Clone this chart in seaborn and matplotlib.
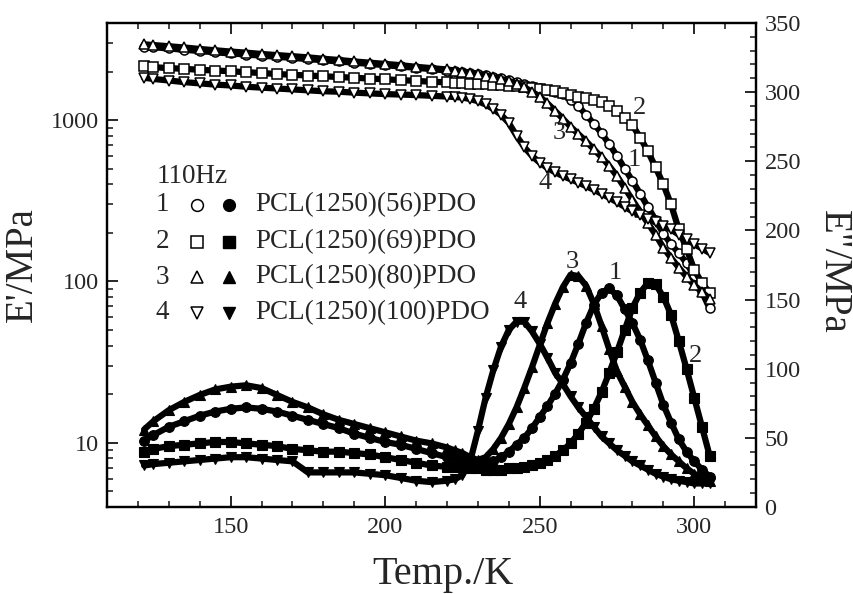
import matplotlib
matplotlib.use("Agg")
import numpy as np
import pandas as pd
import matplotlib.pyplot as plt
import seaborn as sns
from matplotlib.ticker import MultipleLocator, NullFormatter, LogLocator

# Temperature grid (K)
temps = [122, 125, 130, 135, 140, 145, 150, 155, 160, 165, 170, 175, 180, 185,
         190, 195, 200, 205, 210, 215, 220, 222.5, 225, 227.5, 230, 232.5, 235,
         237.5, 240, 242.5, 245, 247.5, 250, 252.5, 255, 257.5, 260, 262.5, 265,
         267.5, 270, 272.5, 275, 277.5, 280, 282.5, 285, 287.5, 290, 292.5, 295,
         297.5, 300, 302.5, 305]

# Storage modulus E' (MPa), open markers, left log axis
e1_store = [2850, 2830, 2780, 2730, 2680, 2630, 2590, 2550, 2510, 2470, 2430, 2390,
            2350, 2310, 2270, 2230, 2190, 2150, 2110, 2070, 2030, 2010, 1990, 1960,
            1930, 1900, 1860, 1820, 1780, 1730, 1680, 1630, 1580, 1540, 1500, 1450,
            1340, 1220, 1080, 950, 830, 710, 600, 500, 420, 350, 290, 240, 198, 170,
            150, 130, 108, 86, 68]
e2_store = [2150, 2130, 2100, 2080, 2050, 2030, 2010, 1980, 1960, 1930, 1910, 1890,
            1870, 1850, 1830, 1810, 1790, 1770, 1750, 1730, 1715, 1705, 1695, 1685,
            1675, 1665, 1655, 1645, 1635, 1620, 1605, 1590, 1570, 1545, 1510, 1470,
            1430, 1400, 1370, 1340, 1290, 1220, 1140, 1030, 930, 780, 640, 510, 400,
            300, 210, 160, 118, 98, 85]
e3_store = [2950, 2920, 2870, 2820, 2760, 2710, 2660, 2620, 2570, 2530, 2490, 2450,
            2400, 2360, 2310, 2270, 2230, 2190, 2140, 2100, 2060, 2030, 2000, 1970,
            1930, 1890, 1850, 1800, 1750, 1680, 1600, 1500, 1400, 1270, 1140, 1020,
            910, 820, 740, 660, 590, 520, 450, 380, 320, 270, 230, 195, 162, 140,
            122, 107, 95, 86, 78]
e4_store = [1830, 1800, 1760, 1720, 1690, 1660, 1640, 1610, 1590, 1570, 1550, 1530,
            1510, 1500, 1480, 1465, 1450, 1440, 1430, 1415, 1400, 1390, 1380, 1350,
            1310, 1250, 1170, 1080, 960, 800, 680, 600, 545, 505, 475, 450, 430, 410,
            390, 370, 350, 330, 310, 290, 272, 258, 245, 233, 222, 210, 195, 182,
            170, 160, 150]

# Loss modulus E'' (MPa), filled markers, right linear axis
e1_loss = [48, 52, 58, 62, 66, 69, 71, 72, 71, 69, 66, 63, 60, 57, 53, 50, 47, 45,
           42, 39, 36, 35, 33, 32, 32, 32, 33, 36, 40, 45, 50, 57, 65, 73, 82, 92,
           104, 118, 133, 146, 155, 158, 153, 143, 133, 121, 106, 90, 74, 61, 49,
           40, 33, 27, 22]
e2_loss = [40, 42, 44, 45, 46, 47, 47, 46, 45, 44, 42, 41, 40, 40, 39, 38, 36, 34,
           32, 30, 29, 29, 29, 28, 28, 27, 27, 27, 28, 28, 29, 30, 32, 34, 37, 41,
           46, 53, 61, 71, 83, 97, 112, 128, 144, 155, 162, 161, 152, 139, 120, 100,
           79, 58, 37]
e3_loss = [56, 62, 70, 76, 81, 85, 87, 88, 86, 81, 76, 72, 67, 63, 60, 57, 54, 51,
           48, 46, 43, 41, 39, 36, 34, 36, 42, 50, 60, 72, 86, 101, 117, 133, 147,
           159, 168, 167, 160, 147, 131, 114, 98, 87, 76, 67, 59, 51, 44, 38, 33,
           28, 24, 21, 19]
e4_loss = [30, 31, 32, 33, 34, 35, 36, 36, 35, 34, 33, 25, 25, 25, 25, 24, 23, 21,
           19, 18, 19, 20, 23, 33, 55, 79, 99, 116, 128, 134, 134, 127, 118, 108,
           97, 89, 80, 72, 65, 58, 51, 46, 41, 37, 33, 30, 27, 24, 22, 20, 19, 18,
           17, 17, 17]

sample_names = ["PCL(1250)(56)PDO", "PCL(1250)(69)PDO",
                "PCL(1250)(80)PDO", "PCL(1250)(100)PDO"]
marker_list = ["o", "s", "^", "v"]

store_df = pd.DataFrame({"T": temps, "1": e1_store, "2": e2_store,
                         "3": e3_store, "4": e4_store})
loss_df = pd.DataFrame({"T": temps, "1": e1_loss, "2": e2_loss,
                        "3": e3_loss, "4": e4_loss})

sns.set_theme(style="ticks")
plt.rcParams['font.family'] = ['Liberation Serif', 'DejaVu Serif']
plt.rcParams['axes.linewidth'] = 1.6

fig = plt.figure(figsize=(8.54, 5.94), dpi=100)
ax = fig.add_axes([0.1253, 0.1465, 0.7600, 0.8148])
ax2 = ax.twinx()

# E' curves: open markers packed on a thick black band
for key, mk in zip(["1", "2", "3", "4"], marker_list):
    sns.lineplot(data=store_df, x="T", y=key, ax=ax, color="black", lw=4.5,
                 marker=mk, ms=6.5, mfc="white", mec="black", mew=1.1)

# E'' curves: filled markers
for key, mk in zip(["1", "2", "3", "4"], marker_list):
    sns.lineplot(data=loss_df, x="T", y=key, ax=ax2, color="black", lw=4.5,
                 marker=mk, ms=7, mfc="black", mec="black", mew=0.8)

ax.set_yscale("log")
ax.set_xlim(110, 320)
ax.set_ylim(4, 4000)
ax2.set_ylim(0, 350)

ax.set_xticks([150, 200, 250, 300])
ax.xaxis.set_minor_locator(MultipleLocator(10))
ax.set_yticks([10, 100, 1000])
ax.set_yticklabels(["10", "100", "1000"])
ax.yaxis.set_minor_locator(LogLocator(base=10, subs=np.arange(2, 10)))
ax.yaxis.set_minor_formatter(NullFormatter())
ax2.set_yticks(range(0, 351, 50))
ax2.yaxis.set_minor_locator(MultipleLocator(10))

ax.tick_params(axis="x", which="both", direction="in", top=True, bottom=True,
               labelsize=17.5, pad=7)
ax.tick_params(axis="y", which="both", direction="in", left=True, right=False,
               labelsize=17.5, pad=6)
ax.tick_params(which="major", length=8, width=1.4)
ax.tick_params(which="minor", length=4, width=1.2)
ax2.tick_params(axis="y", which="both", direction="in", right=True, left=False,
                labelsize=17.5, pad=6)
ax2.tick_params(which="major", length=8, width=1.4)
ax2.tick_params(which="minor", length=4, width=1.2)
for a in (ax, ax2):
    for sp in a.spines.values():
        sp.set_visible(True)
        sp.set_color("black")
        sp.set_linewidth(1.6)

ax.set_xlabel("Temp./K", fontsize=29, va="baseline", ha="center")
ax.xaxis.set_label_coords(0.518, -0.160)
ax.set_ylabel("E'/MPa", fontsize=28, rotation=90, va="center", ha="center")
ax.yaxis.set_label_coords(-0.130, 0.5)
ax2.set_ylabel('E"/MPa', fontsize=28, rotation=270, va="center", ha="center")
ax2.yaxis.set_label_coords(1.119, 0.486)

# curve numbers next to the data
ax.text(282.4, 1190, "2", fontsize=19, ha="center", va="center")
ax.text(280.7, 570, "1", fontsize=19, ha="center", va="center")
ax.text(256.2, 830, "3", fontsize=19, ha="center", va="center")
ax.text(251.6, 410, "4", fontsize=19, ha="center", va="center")
ax2.text(243.5, 148, "4", fontsize=19, ha="center", va="center")
ax2.text(260.5, 177, "3", fontsize=19, ha="center", va="center")
ax2.text(274.5, 169, "1", fontsize=19, ha="center", va="center")
ax2.text(300.3, 109, "2", fontsize=19, ha="center", va="center")

# hand-made legend
ax.text(0.077, 0.682, "110Hz", transform=ax.transAxes, fontsize=19.5,
        ha="left", va="center")
row_y = [0.624, 0.5475, 0.475, 0.401]
for i, (name, mk) in enumerate(zip(sample_names, marker_list)):
    y = row_y[i]
    ax.text(0.085, y, str(i + 1), transform=ax.transAxes, fontsize=19.5,
            ha="center", va="center")
    ax.plot([0.139], [y], transform=ax.transAxes, marker=mk, ms=8.5,
            mfc="white", mec="black", mew=1.1, ls="none", clip_on=False)
    ax.plot([0.188], [y], transform=ax.transAxes, marker=mk, ms=8.5,
            mfc="black", mec="black", ls="none", clip_on=False)
    ax.text(0.228, y, name, transform=ax.transAxes, fontsize=19.5,
            ha="left", va="center")

fig.savefig("out.png", dpi=100)
